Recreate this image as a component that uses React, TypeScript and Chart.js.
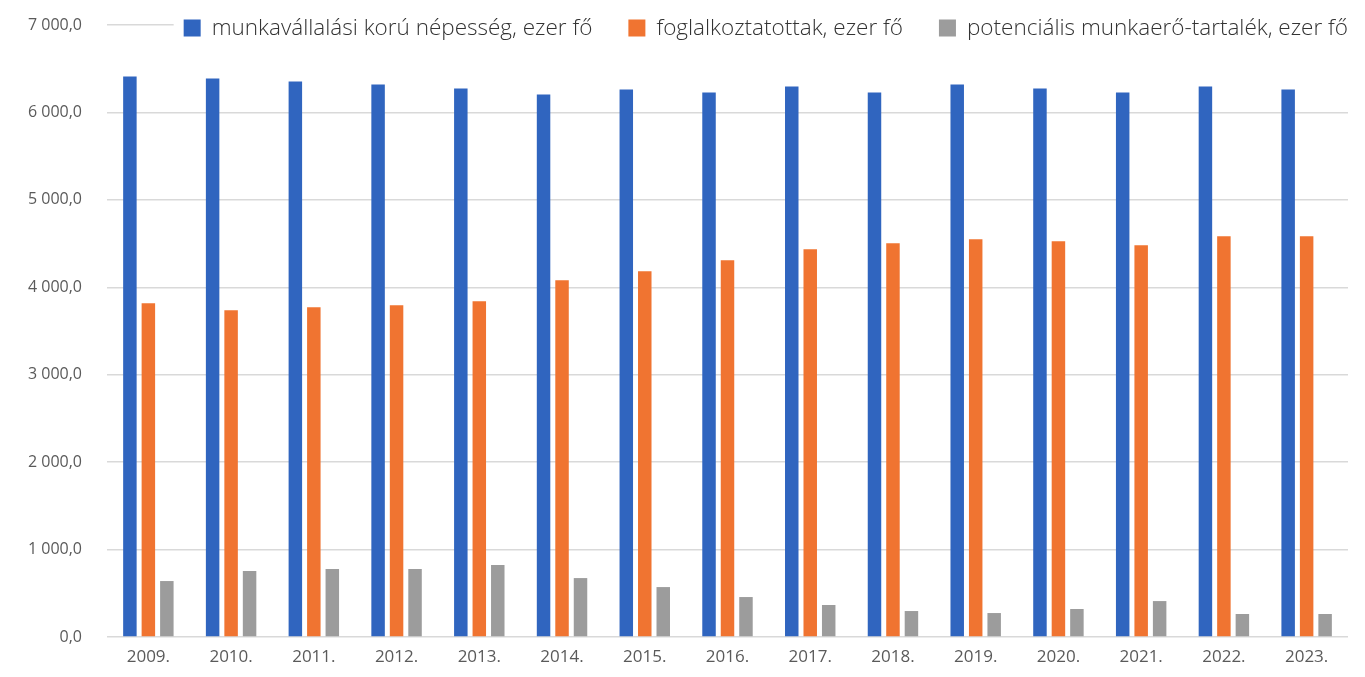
import React, { useEffect, useRef } from 'react';
import { Chart, registerables } from 'chart.js';

Chart.register(...registerables);

const years = ['2009.', '2010.', '2011.', '2012.', '2013.', '2014.', '2015.', '2016.', '2017.', '2018.', '2019.', '2020.', '2021.', '2022.', '2023.'];
const workingAge = [6411, 6389, 6354, 6320, 6274, 6206, 6263, 6229, 6297, 6229, 6320, 6274, 6229, 6297, 6263];
const employed = [3817, 3737, 3771, 3794, 3840, 4080, 4183, 4309, 4434, 4503, 4549, 4526, 4480, 4583, 4583];
const reserve = [640, 754, 777, 777, 823, 674, 571, 457, 366, 297, 274, 320, 411, 263, 263];
const seriesLabels = [
  'munkavállalási korú népesség, ezer fő',
  'foglalkoztatottak, ezer fő',
  'potenciális munkaerő-tartalék, ezer fő',
];
const seriesColors = ['#3065BF', '#F07431', '#9C9C9C'];
const yMin = 0;
const yMax = 7000;
const yStep = 1000;

function fmt(v: number): string {
  const s = v.toFixed(1);
  const [i, d] = s.split('.');
  return i.replace(/\B(?=(\d{3})+(?!\d))/g, ' ') + ',' + d;
}

const legendPlugin = {
  id: 'customLegend',
  afterDraw(chart: any) {
    const ctx = chart.ctx as CanvasRenderingContext2D;
    ctx.save();
    ctx.font = '300 22.5px "Open Sans"';
    const box = 17;
    const gapBoxText = 11;
    const gapItems = 36;
    const items = chart.data.datasets.map((ds: any) => ({
      label: ds.label as string,
      color: ds.backgroundColor as string,
      w: ctx.measureText(ds.label).width,
    }));
    const total =
      items.reduce((a: number, it: any) => a + box + gapBoxText + it.w, 0) + gapItems * (items.length - 1);
    const right = chart.chartArea.right;
    let x = right - total;
    const cy = 28;
    ctx.fillStyle = '#ffffff';
    ctx.fillRect(x - 10, cy - 15, total + 20, 30);
    ctx.textBaseline = 'middle';
    ctx.textAlign = 'left';
    for (const it of items) {
      ctx.fillStyle = it.color;
      ctx.fillRect(x, cy - box / 2, box, box);
      x += box + gapBoxText;
      ctx.fillStyle = '#333333';
      ctx.fillText(it.label, x, cy + 1);
      x += it.w + gapItems;
    }
    ctx.restore();
  },
};

export default function App() {
  const ref = useRef<HTMLCanvasElement | null>(null);
  useEffect(() => {
    if (!ref.current) return;
    const chart = new Chart(ref.current, {
      type: 'bar',
      data: {
        labels: years,
        datasets: [
          { label: seriesLabels[0], data: workingAge, backgroundColor: seriesColors[0] },
          { label: seriesLabels[1], data: employed, backgroundColor: seriesColors[1] },
          { label: seriesLabels[2], data: reserve, backgroundColor: seriesColors[2] },
        ],
      },
      options: {
        responsive: false,
        animation: false,
        devicePixelRatio: 1,
        layout: { padding: { top: 25, right: 17, left: 0, bottom: 0 } },
        datasets: {
          bar: { categoryPercentage: 0.67, barPercentage: 0.73 },
        },
        plugins: {
          legend: { display: false },
          tooltip: { enabled: false },
        },
        scales: {
          x: {
            grid: { display: false, drawTicks: false },
            border: { display: false },
            ticks: {
              color: '#5a5a5a',
              font: { family: 'Open Sans', size: 17 },
              padding: 10,
              maxRotation: 0,
            },
            afterFit: (s: any) => {
              s.height = 40;
              s.paddingLeft = 0;
              s.paddingRight = 0;
            },
          },
          y: {
            min: yMin,
            max: yMax,
            grid: { color: '#d9d9d9', lineWidth: 1.5, drawTicks: false },
            border: { display: false },
            ticks: {
              stepSize: yStep,
              color: '#5a5a5a',
              font: { family: 'Open Sans', size: 16 },
              padding: 25,
              callback: (v: any) => fmt(Number(v)),
            },
            afterFit: (s: any) => {
              s.width = 107;
              s.paddingTop = 0;
              s.paddingBottom = 0;
            },
          },
        },
      },
      plugins: [legendPlugin],
    } as any);
    return () => chart.destroy();
  }, []);
  return (
    <div style={{ position: 'absolute', left: 0, top: 0, width: 1365, height: 677, background: '#fff' }}>
      <canvas ref={ref} width={1365} height={677} />
    </div>
  );
}
